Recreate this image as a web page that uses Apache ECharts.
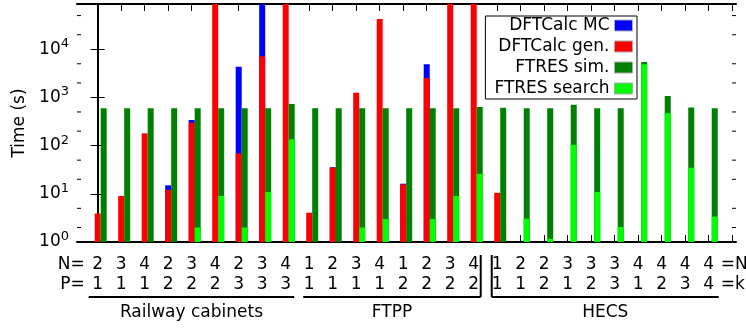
<!DOCTYPE html>
<html>
<head>
<meta charset="utf-8">
<script src="https://cdn.jsdelivr.net/npm/echarts@6/dist/echarts.min.js"></script>
<style>
  html, body { margin: 0; padding: 0; background: #fff; }
  #chart { width: 746px; height: 329px; }
</style>
</head>
<body>
<div id="chart"></div>
<script>
// tick labels under each pair of bars
const nValues = ['2','3','4','2','3','4','2','3','4', '1','2','3','4','1','2','3','4', '1','2','2','3','3','3','4','4','4','4'];
const pValues = ['1','1','1','2','2','2','3','3','3', '1','1','1','1','2','2','2','2', '1','1','2','1','2','3','1','2','3','4'];
const groupNames = ['Railway cabinets', 'FTPP', 'HECS'];
const groupFirst = [0, 9, 17];
const groupLast = [8, 16, 26];

// times in seconds (null = not visible / not run); off-scale ones are estimated
const dftcalcGen = [3.9, 9.0, 180, 12, 298, 300000, 69, 7200, 300000,
                    4.05, 35, 1250, 42300, 15.7, 2520, 300000, 300000,
                    10.5, null, null, null, null, null, null, null, null, null];
const dftcalcMC = [null, null, null, 3, 42, null, 4270, 300000, null,
                   null, 0.6, null, null, 0.5, 2340, null, null,
                   null, null, null, null, null, null, null, null, null, null];
const ftresSearch = [null, null, null, null, 2.0, 9.0, 2.0, 10.9, 135,
                     null, null, 2.0, 3.0, null, 3.0, 9.0, 26,
                     null, 3.05, 1.17, 104, 10.9, 2.05, 4860, 468, 34.8, 3.35];
const ftresSim = [595, 600, 600, 600, 598, 591, 598, 589, 595,
                  600, 600, 598, 597, 600, 597, 591, 607,
                  611, 597, 599, 602, 589, 598, 560, 602, 585, 597];
const minorTicks = [2, 5, 20, 50, 200, 500, 2000, 5000, 20000, 50000];

const font = 'DejaVu Sans';
const xMin = -0.88, xMax = 27.16;
const tickPos = [];
for (let i = 0; i <= nValues.length; i++) tickPos.push(i);
const labelPos = tickPos.slice(0, nValues.length);

// ECharts does not sum stacks on a log axis, so the upper segment is drawn
// as the running total behind the lower one
const dftTotal = dftcalcGen.map((g, i) => dftcalcMC[i] == null ? null : (g || 0) + dftcalcMC[i]);
const ftresTotal = ftresSim.map((s, i) => s == null ? null : (ftresSearch[i] || 0) + s);

function pairs(arr) {
  return arr.map((v, i) => [i, v == null ? '-' : v]);
}

const chart = echarts.init(document.getElementById('chart'));

function yAxisCfg(pos) {
  return {
    type: 'log', logBase: 10, min: 1, max: 87000, position: pos,
    axisLine: { show: true, lineStyle: { color: '#000', width: 2 } },
    axisTick: { show: true, inside: true, length: 7, lineStyle: { color: '#000' } },
    splitLine: { show: false },
    axisLabel: {
      show: pos === 'left', margin: 8, color: '#000',
      formatter: function (v) {
        const e = Math.log10(v);
        if (Math.abs(e - Math.round(e)) > 1e-6) return '';
        return '{b|10}{s|' + Math.round(e) + '}';
      },
      rich: {
        b: { fontFamily: font, fontSize: 17, lineHeight: 24, color: '#000' },
        s: { fontFamily: font, fontSize: 13, lineHeight: 10, verticalAlign: 'top', color: '#000' }
      }
    }
  };
}

function barSeries(name, column, color, data) {
  return {
    name: name, type: 'bar', stack: column, data: pairs(data),
    barWidth: 6, barGap: '0%', itemStyle: { color: color }
  };
}

const option = {
  animation: false,
  backgroundColor: '#fff',
  grid: { left: 77, right: 10, top: 4, bottom: 87 },
  legend: {
    data: ['DFTCalc MC', 'DFTCalc gen.', 'FTRES sim.', 'FTRES search'],
    orient: 'vertical', align: 'right', right: 109, top: 16,
    itemWidth: 18, itemHeight: 11, itemGap: 4, icon: 'rect',
    padding: [1, 4, 2, 9],
    backgroundColor: '#fff', borderColor: '#000', borderWidth: 1, borderRadius: 0,
    itemStyle: { borderColor: '#aaa', borderWidth: 1 },
    textStyle: { fontFamily: font, fontSize: 17, color: '#000' }
  },
  xAxis: [
    {
      type: 'value', min: xMin, max: xMax, position: 'bottom',
      axisLine: { show: true, lineStyle: { color: '#000', width: 2 } },
      axisTick: { show: true, inside: true, length: 7, customValues: tickPos, lineStyle: { color: '#000' } },
      splitLine: { show: false },
      axisLabel: {
        customValues: labelPos, margin: 13, color: '#000',
        fontFamily: font, fontSize: 17, lineHeight: 20,
        formatter: function (v) { return nValues[v] + '\n' + pValues[v]; }
      }
    },
    {
      type: 'value', min: xMin, max: xMax, position: 'top',
      axisLine: { show: true, lineStyle: { color: '#000', width: 2 } },
      axisTick: { show: true, inside: true, length: 7, customValues: tickPos, lineStyle: { color: '#000' } },
      splitLine: { show: false },
      axisLabel: { show: false }
    }
  ],
  yAxis: [
    Object.assign(yAxisCfg('left'), {
      name: 'Time (s)', nameLocation: 'middle', nameGap: 45,
      nameTextStyle: { fontFamily: font, fontSize: 17, color: '#000' }
    }),
    yAxisCfg('right')
  ],
  series: [
    // empty spacer column so the DFTCalc bar sits on the tick
    { name: 'spacer', type: 'bar', stack: 'pad', data: pairs(nValues.map(() => null)), barWidth: 6, barGap: '0%' },
    barSeries('DFTCalc MC', 'dft', '#0000ff', dftTotal),
    barSeries('DFTCalc gen.', 'dft', '#ff0000', dftcalcGen),
    barSeries('FTRES sim.', 'ftres', '#008000', ftresTotal),
    barSeries('FTRES search', 'ftres', '#00ff00', ftresSearch),
    {
      type: 'custom', silent: true, data: minorTicks.map(v => [0, v]),
      renderItem: function (params, api) {
        const y = api.coord([0, api.value(1)])[1];
        const cs = params.coordSys;
        return {
          type: 'group', children: [
            { type: 'line', shape: { x1: cs.x, y1: y, x2: cs.x + 4, y2: y }, style: { stroke: '#000', lineWidth: 1 } },
            { type: 'line', shape: { x1: cs.x + cs.width - 4, y1: y, x2: cs.x + cs.width, y2: y }, style: { stroke: '#000', lineWidth: 1 } }
          ]
        };
      }
    }
  ]
};
chart.setOption(option);

// row headers, group brackets and group names below the axis
const px = v => chart.convertToPixel({ xAxisIndex: 0 }, v);
const rowN = 265, rowP = 285, bracketY = 297, nameY = 313;
const padL = [9, 6, 5.5], padR = [8.5, 7, 10];
const gfx = [];
const txt = (x, y, s, align) => ({
  type: 'text', x: x, y: y, silent: true,
  style: { text: s, fontFamily: font, fontSize: 17, fill: '#000', align: align, verticalAlign: 'middle' }
});
gfx.push(txt(px(0) - 13, rowN, 'N=', 'right'));
gfx.push(txt(px(0) - 13, rowP, 'P=', 'right'));
gfx.push(txt(px(labelPos.length - 1) + 12, rowN, '=N', 'left'));
gfx.push(txt(px(labelPos.length - 1) + 12, rowP, '=k', 'left'));
groupNames.forEach((g, k) => {
  const x1 = px(groupFirst[k]) - padL[k];
  const x2 = px(groupLast[k]) + padR[k];
  gfx.push({ type: 'line', silent: true, shape: { x1: x1, y1: bracketY, x2: x2, y2: bracketY }, style: { stroke: '#000', lineWidth: 2 } });
  if (k === 1) gfx.push({ type: 'line', silent: true, shape: { x1: x2, y1: 255, x2: x2, y2: bracketY }, style: { stroke: '#000', lineWidth: 2 } });
  if (k === 2) gfx.push({ type: 'line', silent: true, shape: { x1: x1, y1: 255, x2: x1, y2: bracketY }, style: { stroke: '#000', lineWidth: 2 } });
  gfx.push(txt((x1 + x2) / 2, nameY, g, 'center'));
});
chart.setOption({ graphic: gfx });
</script>
</body>
</html>
